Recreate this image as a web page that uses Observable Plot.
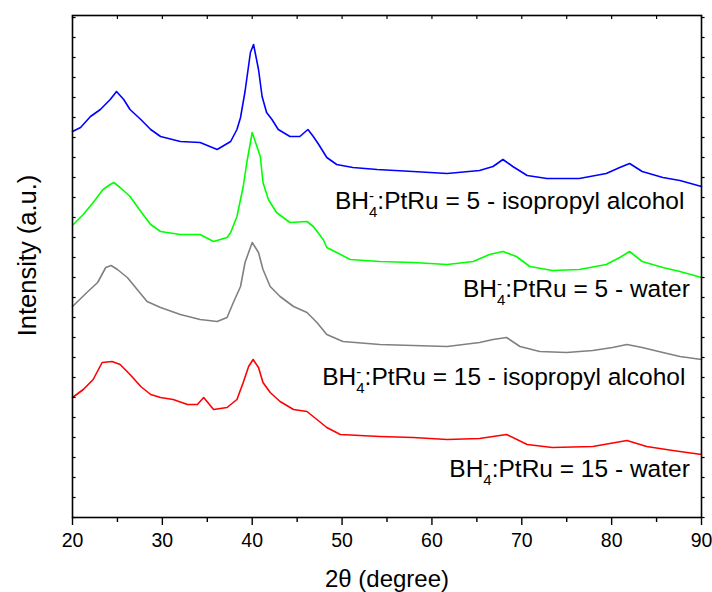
<!DOCTYPE html>
<html>
<head>
<meta charset="utf-8">
<script src="https://cdn.jsdelivr.net/npm/d3@7"></script>
<script src="https://cdn.jsdelivr.net/npm/@observablehq/plot@0.6"></script>
<style>
  html, body { margin: 0; padding: 0; background: #fff; }
  #chart svg { display: block; }
</style>
</head>
<body>
<div id="chart"></div>
<script>
// 2θ positions (degree) and intensities (a.u., stacked offsets as in the figure)
const blueX = [20.0,20.9,22.0,23.1,24.2,24.9,25.7,26.4,27.6,28.7,29.8,32.0,34.2,36.1,37.6,38.3,38.7,39.2,39.8,40.15,40.7,41.1,41.6,42.2,42.9,44.2,45.3,46.2,46.8,47.4,48.3,49.4,51.2,53.9,57.9,61.7,65.3,66.8,67.9,69.0,70.6,72.8,76.4,79.4,80.9,82.0,83.4,85.7,87.6,90.0];
const blueY = [386,390,401,408,418,426,418,408,398,388,381,376,375,368,376,388,400,426,465,473,448,421,405,398,388,381,381,388,381,373,360,353,350,348,346,344,347,351,358,351,342,339,339,344,350,354,346,340,337,331];

const greenX = [20.1,21.2,22.3,23.4,24.2,24.6,25.3,26.4,27.6,28.7,29.8,32.0,34.2,35.7,37.2,37.6,38.3,39.0,39.4,40.0,40.9,41.2,41.8,42.7,44.2,46.1,46.8,47.9,48.3,49.4,50.9,54.2,57.9,61.7,64.6,66.4,67.9,69.4,70.9,73.4,76.4,79.4,80.9,82.0,83.4,85.7,87.6,90.0];
const greenY = [293,303,315,328,333,335,330,321,306,293,286,283,283,276,280,285,301,331,355,385,361,335,318,305,295,296,291,278,270,265,258,256,255,253,256,263,266,261,251,247,248,253,260,266,256,250,246,240];

const grayX = [20.0,21.6,22.8,23.7,24.3,25.0,26.1,27.2,28.3,29.8,32.0,34.2,36.1,37.2,37.9,38.7,39.2,40.0,40.7,41.2,42.0,43.1,44.6,46.1,47.2,48.3,50.1,54.2,57.9,61.7,65.3,66.8,68.3,69.8,72.0,75.0,77.9,80.1,81.7,83.4,85.7,87.6,90.0];
const grayY = [211,225,235,250,252,248,240,228,216,210,203,198,196,200,215,231,255,275,265,248,231,221,211,205,195,183,176,173,172,171,175,178,180,171,166,165,167,170,173,170,165,161,158];

const redX = [20.0,21.2,22.3,23.3,24.4,25.3,26.4,27.6,28.7,29.8,31.2,32.8,33.9,34.6,35.7,37.2,38.3,39.0,39.6,40.1,40.7,41.2,42.0,43.1,44.6,46.1,47.2,48.3,49.8,52.0,54.2,57.9,61.7,65.3,68.3,70.6,73.4,77.9,81.7,83.9,86.8,90.0];
const redY = [120,128,138,155,156,153,143,131,123,120,118,113,113,120,108,110,118,135,151,158,150,135,125,116,108,106,98,90,83,82,81,80,78,79,83,73,70,71,77,71,67,63];

const seriesNames = ["BH4-:PtRu = 5 - isopropyl alcohol", "BH4-:PtRu = 5 - water", "BH4-:PtRu = 15 - isopropyl alcohol", "BH4-:PtRu = 15 - water"];
const seriesColors = ["#0000ff", "#00ff00", "#808080", "#ff0000"];
const labelX = [88.1, 88.7, 88.2, 88.7];
const labelY = [316, 228, 140, 48];

const xMajor = [20, 30, 40, 50, 60, 70, 80, 90];
const xMinor = [25, 35, 45, 55, 65, 75, 85];
const xAll = [20, 25, 30, 35, 40, 45, 50, 55, 60, 65, 70, 75, 80, 85, 90];
const yTicks = d3.range(0, 503, 20);

const xs = [blueX, greenX, grayX, redX];
const ys = [blueY, greenY, grayY, redY];
const rows = seriesNames.flatMap((s, i) => xs[i].map((x, j) => ({series: s, x, y: ys[i][j]})));
const labels = seriesNames.map((s, i) => ({text: s, x: labelX[i], y: labelY[i]}));

const chart = Plot.plot({
  width: 712,
  height: 592,
  marginLeft: 72,
  marginRight: 11,
  marginTop: 15,
  marginBottom: 75,
  style: {fontFamily: "'Liberation Sans', Arial, sans-serif", background: "#fff", color: "#000"},
  x: {domain: [20, 90], axis: null},
  y: {domain: [0, 502], axis: null},
  color: {domain: seriesNames, range: seriesColors},
  marks: [
    Plot.line(rows, {x: "x", y: "y", z: "series", stroke: "series", strokeWidth: 1.6, curve: "linear"}),
    Plot.frame({stroke: "#000", strokeWidth: 1.6}),
    Plot.axisX({ticks: xMajor, tickSize: 8, tickPadding: 8, fontSize: 19.5, label: null, strokeWidth: 1.4}),
    Plot.axisX({ticks: xMinor, tickSize: 5, tickFormat: () => "", label: null, strokeWidth: 1.4}),
    Plot.ruleX(xAll, {x: d => d, y1: 502, y2: 498, stroke: "#000", strokeWidth: 1.2}),
    Plot.ruleY(yTicks, {y: d => d, x1: 20, x2: 20.4, stroke: "#000", strokeWidth: 1.2}),
    Plot.ruleY(yTicks, {y: d => d, x1: 90, x2: 90.4, stroke: "#000", strokeWidth: 1.2}),
    Plot.text(labels, {x: "x", y: "y", text: "text", textAnchor: "end", fontSize: 24.5, fill: "#000"}),
    Plot.text(["2θ (degree)"], {frameAnchor: "bottom", lineAnchor: "middle", dy: 62, fontSize: 24, fill: "#000"}),
    Plot.text(["Intensity (a.u.)"], {frameAnchor: "left", textAnchor: "middle", lineAnchor: "middle", dx: -45, dy: -11, rotate: -90, fontSize: 25.5, fill: "#000"})
  ]
});

document.getElementById("chart").appendChild(chart);

// render BH4- with stacked subscript 4 and superscript minus
d3.select(chart).selectAll("text").each(function() {
  const t = d3.select(this);
  const s = this.textContent;
  if (!s.startsWith("BH4-")) return;
  const rest = s.slice(4);
  t.text(null);
  t.append("tspan").text("BH");
  t.append("tspan").attr("dy", 8).attr("font-size", 15).text("4");
  t.append("tspan").attr("dx", -8.3).attr("dy", -16).attr("font-size", 15).text("-");
  t.append("tspan").attr("dx", 3.3).attr("dy", 8).text(rest);
});
</script>
</body>
</html>
